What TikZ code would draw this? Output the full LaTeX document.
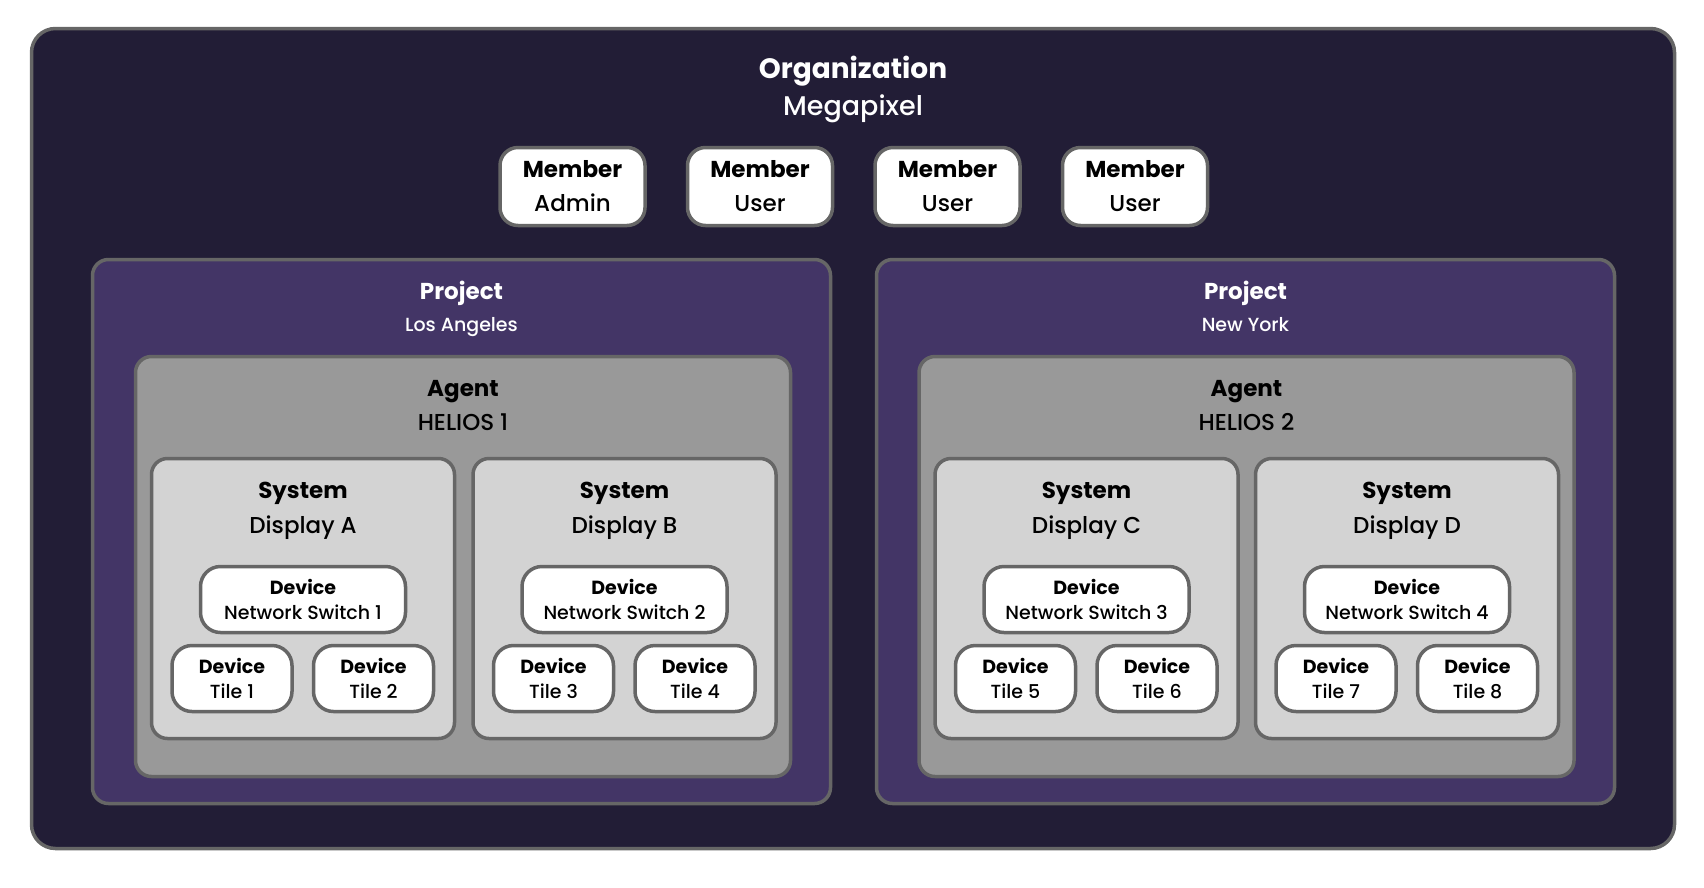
\documentclass[tikz,border=0pt]{standalone}
\usepackage{fontspec}
\setmainfont{Poppins}[UprightFont={Poppins Medium}, BoldFont={Poppins Bold}]
\usetikzlibrary{positioning}
\definecolor{orgfill}{HTML}{221D36}
\definecolor{projfill}{HTML}{433566}
\definecolor{agentfill}{HTML}{999999}
\definecolor{sysfill}{HTML}{D3D3D3}
\definecolor{edgegray}{HTML}{666666}
\tikzset{
  box/.style={rectangle, draw=edgegray, line width=3.5pt},
  orgbox/.style={box, rounded corners=24pt, fill=orgfill, minimum width=1643pt, minimum height=820pt},
  projbox/.style={box, rounded corners=16pt, fill=projfill, minimum width=738pt, minimum height=544pt},
  agentbox/.style={box, rounded corners=16pt, fill=agentfill, minimum width=655pt, minimum height=420pt},
  sysbox/.style={box, rounded corners=16pt, fill=sysfill, minimum width=303pt, minimum height=280pt},
  memberbox/.style={box, rounded corners=18pt, fill=white, minimum width=145pt, minimum height=78pt, align=center, font=\fontsize{23}{34}\selectfont},
  switchbox/.style={box, rounded corners=20pt, fill=white, minimum width=205pt, minimum height=66pt, align=center, font=\fontsize{19}{25}\selectfont},
  tilebox/.style={switchbox, minimum width=120pt},
  heading/.style={align=center, inner sep=0pt}
}
\begin{document}
\begin{tikzpicture}[x=1pt, y=-1pt]
  \useasboundingbox (0,0) rectangle (1704,887);

  % --- Organization ---
  \node (org) [orgbox] at (853,438.5) {};
  \node (orgtitle) [heading, text=white, font=\fontsize{27}{37}\selectfont] at (853,89.6) {{\fontsize{28}{37}\selectfont\bfseries Organization}\\Megapixel};

  % --- Members ---
  \node (memA) [memberbox] at (572.5,186.5) {\textbf{Member}\\Admin};
  \node (memB) [memberbox, right=39pt of memA] {\textbf{Member}\\User};
  \node (memC) [memberbox, right=39pt of memB] {\textbf{Member}\\User};
  \node (memD) [memberbox, right=39pt of memC] {\textbf{Member}\\User};

  % --- Project Los Angeles ---
  \node (projLA) [projbox] at (461.5,531.5) {};
  \node (projLAtitle) [heading, text=white, font=\fontsize{19}{32}\selectfont] at (461.5,308.6) {{\fontsize{23}{32}\selectfont\bfseries Project}\\Los Angeles};
  \node (agent1) [agentbox] at (463,566.5) {};
  \node (agent1title) [heading, font=\fontsize{23}{34}\selectfont] at (463,405) {\textbf{Agent}\\HELIOS 1};

  \node (sysA) [sysbox] at (303,598.5) {};
  \node (sysAtitle) [heading, font=\fontsize{23}{35}\selectfont] at (303,511.3) {\textbf{System}\\Display A};
  \node (switch1) [switchbox] at (303,599.5) {\textbf{Device}\\Network Switch 1};
  \node (tile1) [tilebox] at (232,678.5) {\textbf{Device}\\Tile 1};
  \node (tile2) [tilebox, right=18pt of tile1] {\textbf{Device}\\Tile 2};

  \node (sysB) [sysbox] at (624.5,598.5) {};
  \node (sysBtitle) [heading, font=\fontsize{23}{35}\selectfont] at (624.5,511.3) {\textbf{System}\\Display B};
  \node (switch2) [switchbox] at (624.5,599.5) {\textbf{Device}\\Network Switch 2};
  \node (tile3) [tilebox] at (553.5,678.5) {\textbf{Device}\\Tile 3};
  \node (tile4) [tilebox, right=18pt of tile3] {\textbf{Device}\\Tile 4};

  % --- Project New York ---
  \node (projNY) [projbox] at (1245.5,531.5) {};
  \node (projNYtitle) [heading, text=white, font=\fontsize{19}{32}\selectfont] at (1245.5,306.3) {{\fontsize{23}{32}\selectfont\bfseries Project}\\New York};
  \node (agent2) [agentbox] at (1246.5,566.5) {};
  \node (agent2title) [heading, font=\fontsize{23}{34}\selectfont] at (1246.5,405) {\textbf{Agent}\\HELIOS 2};

  \node (sysC) [sysbox] at (1086.5,598.5) {};
  \node (sysCtitle) [heading, font=\fontsize{23}{35}\selectfont] at (1086.5,511.3) {\textbf{System}\\Display C};
  \node (switch3) [switchbox] at (1086.5,599.5) {\textbf{Device}\\Network Switch 3};
  \node (tile5) [tilebox] at (1015.5,678.5) {\textbf{Device}\\Tile 5};
  \node (tile6) [tilebox, right=18pt of tile5] {\textbf{Device}\\Tile 6};

  \node (sysD) [sysbox] at (1407,598.5) {};
  \node (sysDtitle) [heading, font=\fontsize{23}{35}\selectfont] at (1407,511.3) {\textbf{System}\\Display D};
  \node (switch4) [switchbox] at (1407,599.5) {\textbf{Device}\\Network Switch 4};
  \node (tile7) [tilebox] at (1336,678.5) {\textbf{Device}\\Tile 7};
  \node (tile8) [tilebox, right=18pt of tile7] {\textbf{Device}\\Tile 8};

\end{tikzpicture}
\end{document}
